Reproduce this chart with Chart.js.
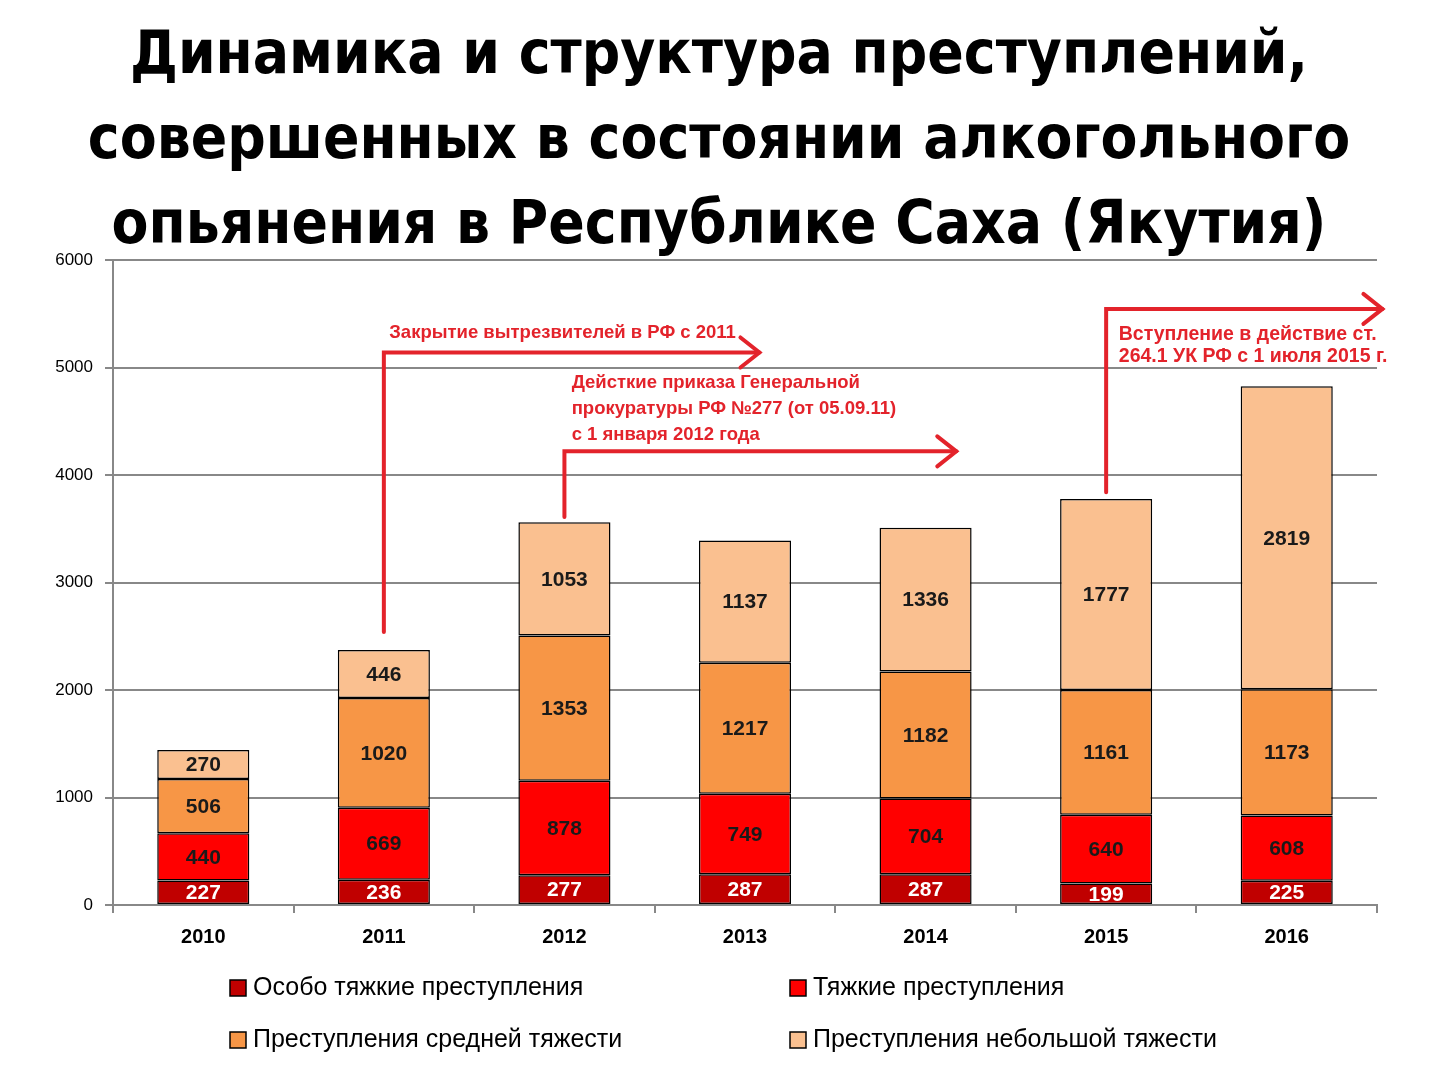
<!DOCTYPE html>
<html>
<head>
<meta charset="utf-8">
<script src="https://cdn.jsdelivr.net/npm/chart.js@4/dist/chart.umd.min.js"></script>
<style>
  html, body { margin: 0; padding: 0; background: #ffffff; }
  #wrap { width: 1433px; height: 1080px; }
</style>
</head>
<body>
<div id="wrap"><canvas id="c" width="1433" height="1080"></canvas></div>
<script>
// ---- data ----
const titleLines = [
  'Динамика и структура преступлений,',
  'совершенных в состоянии алкогольного',
  'опьянения в Республике Саха (Якутия)'
];
const years = ['2010', '2011', '2012', '2013', '2014', '2015', '2016'];
const especiallyGrave = [227, 236, 277, 287, 287, 199, 225];
const grave = [440, 669, 878, 749, 704, 640, 608];
const medium = [506, 1020, 1353, 1217, 1182, 1161, 1173];
const minor = [270, 446, 1053, 1137, 1336, 1777, 2819];
const seriesNames = [
  'Особо тяжкие преступления',
  'Тяжкие преступления',
  'Преступления средней тяжести',
  'Преступления небольшой тяжести'
];
const yTicks = [0, 1000, 2000, 3000, 4000, 5000, 6000];

const noteText1 = ['Закрытие вытрезвителей в РФ с 2011'];
const noteText2 = ['Дейсткие приказа Генеральной', 'прокуратуры РФ №277 (от 05.09.11)', 'с 1 января 2012 года'];
const noteText3 = ['Вступление в действие ст.', '264.1 УК РФ с 1 июля 2015 г.'];

const colors = ['#C00000', '#FF0000', '#F79646', '#FAC090'];
const labelColors = ['#FFFFFF', '#1a1a1a', '#1a1a1a', '#1a1a1a'];
const RED = '#E3232B';

const annotations = [
  { x: 1, y0: 2540, y1: 5140, xEnd: 3.08, text: noteText1, tx: 1.03, ty: 5325, font: 'bold 18.5px "Liberation Sans"', lh: 26 },
  { x: 2, y0: 3610, y1: 4220, xEnd: 4.17, text: noteText2, tx: 2.04, ty: 4855, font: 'bold 18.5px "Liberation Sans"', lh: 26 },
  { x: 5, y0: 3840, y1: 5545, xEnd: 6.53, text: noteText3, tx: 5.07, ty: 5310, font: 'bold 19.5px "Liberation Sans"', lh: 22 }
];

const titlePlugin = {
  id: 'titleDraw',
  afterDraw(chart) {
    const ctx = chart.ctx;
    ctx.save();
    ctx.fillStyle = '#000';
    ctx.textAlign = 'center';
    ctx.textBaseline = 'alphabetic';
    const fam = '"DejaVu Sans Condensed", "DejaVu Sans"';
    ctx.font = 'bold 60px ' + fam;
    const w = ctx.measureText(titleLines[1]).width;
    const size = 60 * 1262 / w;
    ctx.font = 'bold ' + size.toFixed(1) + 'px ' + fam;
    const base = [73, 158, 243];
    titleLines.forEach((t, i) => ctx.fillText(t, 719, base[i]));
    ctx.restore();
  }
};

const barLabelPlugin = {
  id: 'barLabels',
  afterDatasetsDraw(chart) {
    const ctx = chart.ctx;
    ctx.save();
    ctx.font = 'bold 21px "Liberation Sans"';
    ctx.textAlign = 'center';
    ctx.textBaseline = 'middle';
    chart.data.datasets.forEach((ds, di) => {
      const meta = chart.getDatasetMeta(di);
      meta.data.forEach((bar, i) => {
        const p = bar.getProps(['x', 'y', 'base'], true);
        ctx.fillStyle = labelColors[di];
        ctx.fillText(String(ds.data[i]), p.x, (p.y + p.base) / 2 + 1);
      });
    });
    ctx.restore();
  }
};

const arrowPlugin = {
  id: 'arrows',
  afterDraw(chart) {
    const ctx = chart.ctx;
    const xs = chart.scales.x, ys = chart.scales.y;
    ctx.save();
    annotations.forEach(a => {
      const x0 = xs.getPixelForValue(a.x);
      const yb = ys.getPixelForValue(a.y0);
      const yt = ys.getPixelForValue(a.y1);
      const xe = xs.getPixelForValue(a.xEnd);
      ctx.strokeStyle = RED;
      ctx.lineWidth = 4;
      ctx.lineCap = 'round';
      ctx.lineJoin = 'miter';
      ctx.beginPath();
      ctx.moveTo(x0, yb);
      ctx.lineTo(x0, yt);
      ctx.lineTo(xe, yt);
      ctx.stroke();
      ctx.beginPath();
      ctx.moveTo(xe - 19, yt - 15);
      ctx.lineTo(xe, yt);
      ctx.lineTo(xe - 19, yt + 15);
      ctx.stroke();
      ctx.fillStyle = RED;
      ctx.font = a.font;
      ctx.textAlign = 'left';
      ctx.textBaseline = 'middle';
      const tx = xs.getPixelForValue(a.tx);
      const ty = ys.getPixelForValue(a.ty);
      a.text.forEach((t, i) => ctx.fillText(t, tx, ty + i * a.lh));
    });
    ctx.restore();
  }
};

const legendPlugin = {
  id: 'legendDraw',
  afterDraw(chart) {
    const ctx = chart.ctx;
    const pos = [[230, 988], [790, 988], [230, 1040], [790, 1040]];
    ctx.save();
    ctx.font = '25px "Liberation Sans Narrow", "Liberation Sans"';
    ctx.textBaseline = 'middle';
    ctx.textAlign = 'left';
    chart.data.datasets.forEach((ds, i) => {
      const [x, y] = pos[i];
      ctx.fillStyle = ds.backgroundColor;
      ctx.fillRect(x, y - 8, 16, 16);
      ctx.strokeStyle = '#000';
      ctx.lineWidth = 1.5;
      ctx.strokeRect(x, y - 8, 16, 16);
      ctx.fillStyle = '#000';
      ctx.fillText(ds.label, x + 23, y);
    });
    ctx.restore();
  }
};

const seriesData = [especiallyGrave, grave, medium, minor];

new Chart(document.getElementById('c'), {
  type: 'bar',
  data: {
    labels: years,
    datasets: seriesData.map((d, i) => ({
      label: seriesNames[i],
      data: d,
      backgroundColor: colors[i],
      borderColor: '#000',
      borderWidth: 1.5,
      borderSkipped: false,
      barPercentage: 0.51,
      categoryPercentage: 1.0
    }))
  },
  options: {
    responsive: false,
    devicePixelRatio: 1,
    animation: false,
    layout: { padding: { top: 260, right: 56, bottom: 115, left: 0 } },
    plugins: {
      legend: { display: false },
      title: { display: false },
      tooltip: { enabled: false }
    },
    scales: {
      x: {
        stacked: true,
        afterFit(scale) { scale.height = 60; },
        grid: { offset: true, drawOnChartArea: false, color: '#888', lineWidth: 2, tickLength: 8 },
        border: { display: true, color: '#888', width: 2 },
        ticks: { color: '#000', font: { family: '"Liberation Sans"', size: 20, weight: 'bold' }, padding: 12 }
      },
      y: {
        stacked: true,
        min: 0, max: 6000,
        afterFit(scale) { scale.width = 113; },
        afterBuildTicks(scale) { scale.ticks = yTicks.map(v => ({ value: v })); },
        grid: { color: '#888', lineWidth: 2, tickLength: 8 },
        border: { display: true, color: '#888', width: 2 },
        ticks: {
          color: '#000',
          font: { family: '"Liberation Sans"', size: 17 },
          padding: 12,
          callback: (v) => String(v)
        }
      }
    }
  },
  plugins: [barLabelPlugin, arrowPlugin, titlePlugin, legendPlugin]
});
</script>
</body>
</html>
